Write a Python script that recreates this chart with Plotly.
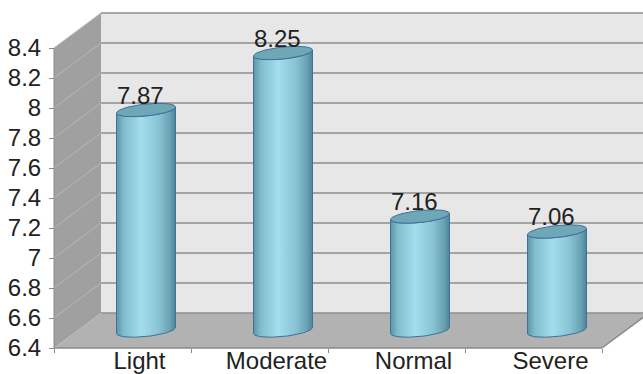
import numpy as np
import plotly.graph_objects as go

# ---- data ----
categories = ["Light", "Moderate", "Normal", "Severe"]
values = [7.87, 8.25, 7.16, 7.06]
y_tickvals = [6.4, 6.6, 6.8, 7.0, 7.2, 7.4, 7.6, 7.8, 8.0, 8.2, 8.4]
y_ticktext = ["6.4", "6.6", "6.8", "7", "7.2", "7.4", "7.6", "7.8", "8", "8.2", "8.4"]

# ---- 3D box geometry (axis units) ----
Y_MIN, Y_MAX = 6.4, 8.4
X_LEFT, X_RIGHT = -0.5, 3.5
DX, DY = 47 / 137, 35 / 150          # depth offset of the back wall
R_X = 29.5 / 137                       # cylinder radius
R_Y = 6 / 150                          # ellipse vertical semi-axis
SHEAR = 3 / 150                        # slight perspective tilt of the ellipses

FONT = "Liberation Sans, Arial, sans-serif"
TXT = "#222222"
WALL_BACK = "#e7e7e7"
WALL_SIDE = "#a0a0a0"
FLOOR = "#b2b2b2"
GRID = "#8e8e8e"
EDGE = "#8a8a8a"

fig = go.Figure()
shapes = []

# back wall
shapes.append(dict(type="rect", xref="x", yref="y", layer="below",
                   x0=X_LEFT + DX, x1=X_RIGHT + DX + 0.2, y0=Y_MIN + DY, y1=Y_MAX + DY,
                   fillcolor=WALL_BACK, line=dict(width=0)))
# left side wall
shapes.append(dict(type="path", xref="x", yref="y", layer="below",
                   path=f"M {X_LEFT},{Y_MIN} L {X_LEFT + DX},{Y_MIN + DY} "
                        f"L {X_LEFT + DX},{Y_MAX + DY} L {X_LEFT},{Y_MAX} Z",
                   fillcolor=WALL_SIDE, line=dict(width=0)))
# floor
shapes.append(dict(type="path", xref="x", yref="y", layer="below",
                   path=f"M {X_LEFT},{Y_MIN} L {X_RIGHT},{Y_MIN} L {X_RIGHT + DX},{Y_MIN + DY} "
                        f"L {X_LEFT + DX},{Y_MIN + DY} Z",
                   fillcolor=FLOOR, line=dict(width=0)))
# gridlines on the back wall and the side wall
for v in y_tickvals[1:]:
    shapes.append(dict(type="line", xref="x", yref="y", layer="below",
                       x0=X_LEFT + DX, x1=X_RIGHT + DX + 0.2, y0=v + DY, y1=v + DY,
                       line=dict(color=GRID, width=1.5)))
for v in y_tickvals[1:]:
    shapes.append(dict(type="line", xref="x", yref="y", layer="below",
                       x0=X_LEFT, x1=X_LEFT + DX, y0=v, y1=v + DY,
                       line=dict(color="#b8b8b8", width=1)))
# floor edges
shapes.append(dict(type="line", xref="x", yref="y", layer="below",
                   x0=X_LEFT + DX, x1=X_RIGHT + DX + 0.2, y0=Y_MIN + DY, y1=Y_MIN + DY,
                   line=dict(color=GRID, width=1.5)))
shapes.append(dict(type="line", xref="x", yref="y", layer="below",
                   x0=X_LEFT, x1=X_RIGHT, y0=Y_MIN, y1=Y_MIN,
                   line=dict(color=EDGE, width=1.5)))
shapes.append(dict(type="line", xref="x", yref="y", layer="below",
                   x0=X_RIGHT, x1=X_RIGHT + DX, y0=Y_MIN, y1=Y_MIN + DY,
                   line=dict(color=EDGE, width=1.5)))
# front vertical edge of the side wall (value axis line)
shapes.append(dict(type="line", xref="x", yref="y", layer="below",
                   x0=X_LEFT, x1=X_LEFT, y0=Y_MIN, y1=Y_MAX,
                   line=dict(color=EDGE, width=1)))

# ---- cylinders (standing in the middle of the depth) ----
body_scale = [[0.0, "#5c95a6"], [0.12, "#7fbccc"], [0.42, "#a4deee"],
              [0.72, "#88c3d3"], [0.9, "#6aa3b3"], [1.0, "#4d8595"]]
annotations = []
for i, (cat, val) in enumerate(zip(categories, values)):
    cx = i + DX / 2
    base = Y_MIN + DY / 2
    top = val + DY / 2
    t_low = np.linspace(np.pi, 2 * np.pi, 40)
    bx = cx + R_X * np.cos(t_low)
    by = base + R_Y * np.sin(t_low) + SHEAR * np.cos(t_low)
    tx = cx + R_X * np.cos(t_low[::-1])
    ty = top + R_Y * np.sin(t_low[::-1]) + SHEAR * np.cos(t_low[::-1])
    xs = np.concatenate([bx, tx, bx[:1]])
    ys = np.concatenate([by, ty, by[:1]])
    fig.add_trace(go.Scatter(x=xs, y=ys, mode="lines", fill="toself",
                             fillgradient=dict(type="horizontal", colorscale=body_scale),
                             line=dict(color="#3f6f9c", width=1),
                             hoverinfo="skip", showlegend=False))
    t = np.linspace(0, 2 * np.pi, 80)
    ex = cx + R_X * np.cos(t)
    ey = top + R_Y * np.sin(t) + SHEAR * np.cos(t)
    fig.add_trace(go.Scatter(x=ex, y=ey, mode="lines", fill="toself",
                             fillcolor="#70a7b6",
                             line=dict(color="#3f6f9c", width=1),
                             hoverinfo="skip", showlegend=False))
    annotations.append(dict(x=cx, y=top, xref="x", yref="y", text=f"{val:.2f}",
                            showarrow=False, xshift=-5.5, yshift=15,
                            font=dict(family=FONT, size=24, color=TXT)))

fig.update_layout(
    width=643, height=374,
    margin=dict(l=0, r=0, t=0, b=0, autoexpand=False),
    paper_bgcolor="white", plot_bgcolor="white",
    shapes=shapes, annotations=annotations,
    xaxis=dict(range=[-122.5 / 137, (643 - 122.5) / 137], anchor="free",
               position=26 / 374, automargin=False,
               showgrid=False, zeroline=False, showline=False,
               tickmode="array", tickvals=[0, 1, 2, 3], ticktext=categories,
               ticks="", ticklabelshift=17, ticklabelstandoff=-4,
               minor=dict(tickmode="array", tickvals=[-0.5, 0.5, 1.5, 2.5, 3.5],
                          ticks="outside", ticklen=4, tickcolor=EDGE, showgrid=False),
               tickfont=dict(family=FONT, size=24, color=TXT)),
    yaxis=dict(range=[6.4 - 26 / 150, 6.4 - 26 / 150 + 374 / 150], anchor="free",
               position=54 / 643, automargin=False,
               showgrid=False, zeroline=False, showline=False,
               tickmode="array", tickvals=y_tickvals, ticktext=y_ticktext,
               ticks="outside", ticklen=5, tickcolor=EDGE, ticklabelstandoff=3,
               tickfont=dict(family=FONT, size=24, color=TXT)),
)

fig.write_html("out.html")
